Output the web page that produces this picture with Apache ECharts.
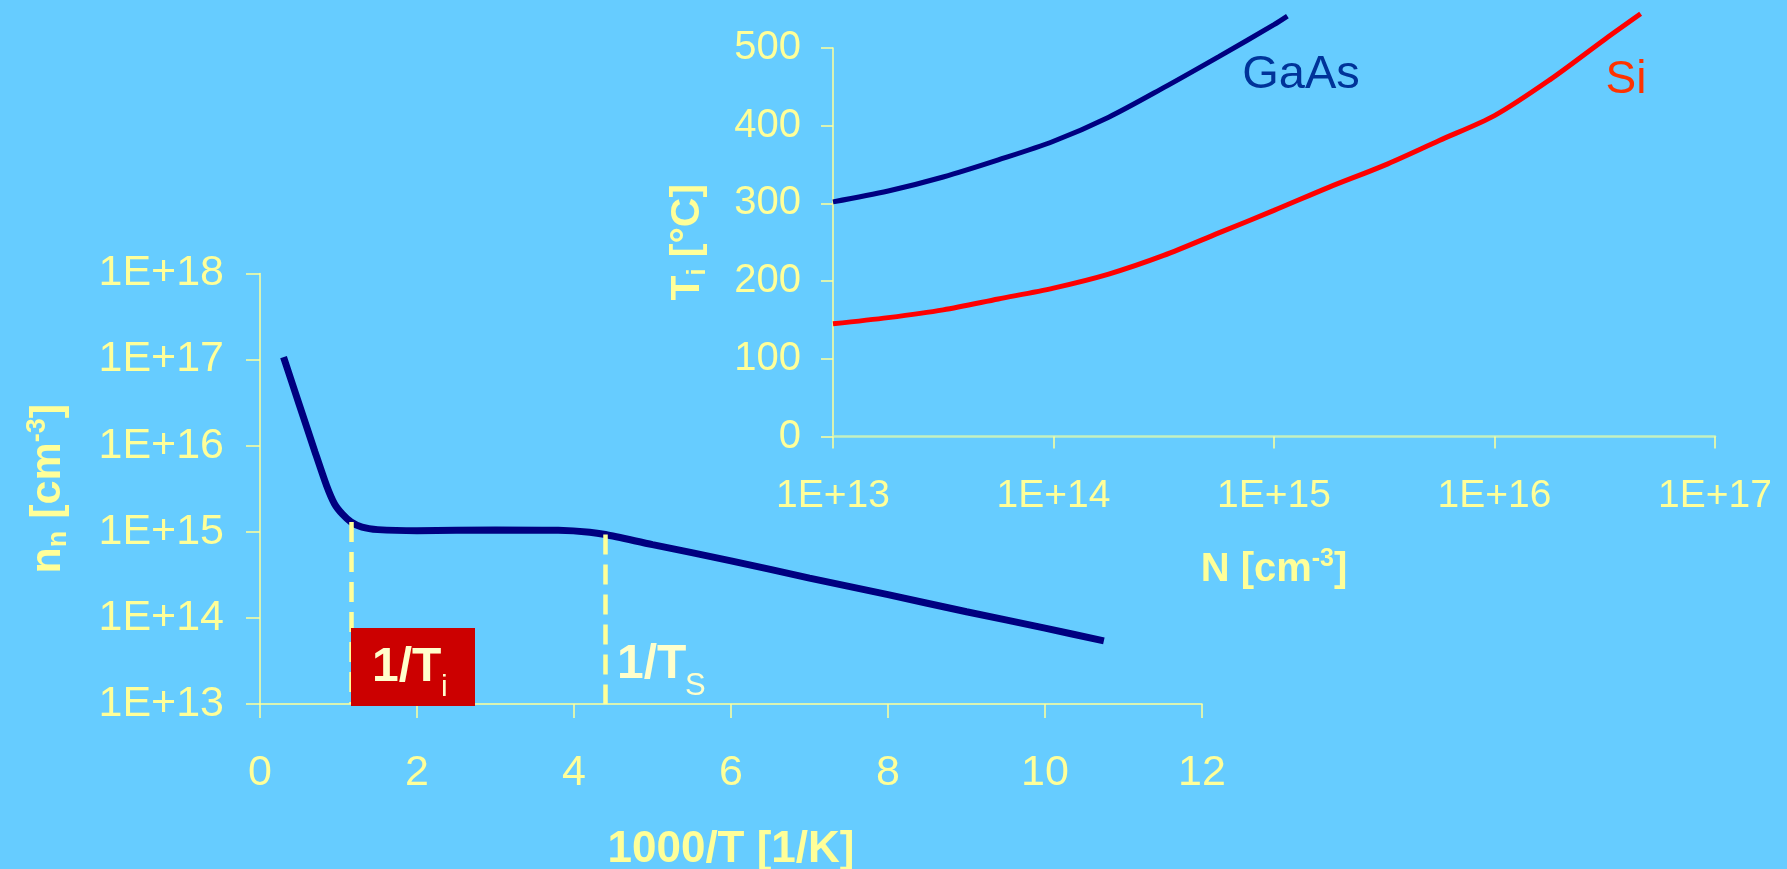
<!DOCTYPE html>
<html>
<head>
<meta charset="utf-8">
<title>n(1000/T) and Ti(N)</title>
<script src="https://cdn.jsdelivr.net/npm/echarts@6/dist/echarts.min.js"></script>
<style>
  html, body { margin: 0; padding: 0; background: #66CCFF; }
  #chart { width: 1787px; height: 869px; }
</style>
</head>
<body>
<div id="chart"></div>
<script>
// left chart: n_n over 1000/T
const invT = [0.3, 0.5, 0.7, 0.85, 0.95, 1.05, 1.16, 1.3, 1.5, 2, 3, 3.8, 4.2, 4.4, 5, 6, 7, 8, 9, 10, 10.75];
const nn = [1.07e17, 3.0e16, 8.5e15, 3.4e15, 2.1e15, 1.6e15, 1.3e15, 1.13e15, 1.06e15, 1.03e15, 1.05e15,
  1.04e15, 9.9e14, 9.3e14, 7.1e14, 4.6e14, 2.9e14, 1.86e14, 1.18e14, 7.6e13, 5.4e13];
const nTickLabels = ['1E+13', '1E+14', '1E+15', '1E+16', '1E+17', '1E+18'];
const invTi = 1.16, nAtTi = 1.3e15;
const invTs = 4.4, nAtTs = 9.3e14;

// right chart: Ti over doping N
const gaasN = [1e13, 1.78e13, 3.16e13, 5.62e13, 1e14, 1.78e14, 3.16e14, 5.62e14, 1e15, 1.15e15];
const gaasTi = [302, 316, 334, 356, 380, 411, 449, 489, 530, 541];
const siN = [1e13, 1.78e13, 3.16e13, 5.62e13, 1e14, 1.78e14, 3.16e14, 5.62e14, 1e15, 1.78e15, 3.16e15,
  5.62e15, 1e16, 1.78e16, 3.16e16, 4.6e16];
const siTi = [145, 153, 163, 177, 191, 209, 233, 262, 291, 321, 349, 381, 413, 459, 511, 544];
const NTickLabels = ['1E+13', '1E+14', '1E+15', '1E+16', '1E+17'];

const yellow = '#FFFF99';
const cream = '#FFFFCC';
const font = '"Liberation Sans", Arial, sans-serif';

function pairs(xs, ys) {
  return xs.map((x, i) => [x, ys[i]]);
}
function expLabel(labels, first) {
  return v => labels[Math.round(Math.log10(v)) - first] || '';
}

const myChart = echarts.init(document.getElementById('chart'));

const option = {
  backgroundColor: '#66CCFF',
  animation: false,
  textStyle: { fontFamily: font },
  grid: [
    { left: 260, top: 273.5, width: 942, height: 430.5, outerBoundsMode: 'none' },
    { left: 833, top: 48, width: 882, height: 388.5, outerBoundsMode: 'none' }
  ],
  xAxis: [
    {
      gridIndex: 0, type: 'value', min: 0, max: 12, interval: 2,
      name: '1000/T [1/K]', nameLocation: 'middle', nameGap: 124,
      nameTextStyle: { color: yellow, fontSize: 44, fontWeight: 'bold', fontFamily: font },
      axisLine: { lineStyle: { color: yellow, width: 1.5 } },
      axisTick: { length: 14, lineStyle: { color: yellow, width: 1.5 } },
      axisLabel: { color: yellow, fontSize: 43, margin: 48, fontFamily: font },
      splitLine: { show: false }
    },
    {
      gridIndex: 1, type: 'log', logBase: 10, min: 1e13, max: 1e17,
      name: '{a|N [cm}{c|-3}{a|]}', nameLocation: 'middle', nameGap: 110,
      nameTextStyle: {
        rich: {
          a: { color: yellow, fontSize: 40, fontWeight: 'bold', fontFamily: font, lineHeight: 46 },
          c: { color: yellow, fontSize: 25, fontWeight: 'bold', fontFamily: font, lineHeight: 25, verticalAlign: 'top' }
        }
      },
      axisLine: { lineStyle: { color: '#C4F0C0', width: 2.5 } },
      axisTick: { length: 12, lineStyle: { color: yellow, width: 1.5 } },
      axisLabel: { color: yellow, fontSize: 39, margin: 40, fontFamily: font, formatter: expLabel(NTickLabels, 13) },
      splitLine: { show: false }
    }
  ],
  yAxis: [
    {
      gridIndex: 0, type: 'log', logBase: 10, min: 1e13, max: 1e18,
      name: '{a|n}{b|n}{a| [cm}{c|-3}{a|]}', nameLocation: 'middle', nameGap: 188,
      nameTextStyle: {
        rich: {
          a: { color: yellow, fontSize: 43, fontWeight: 'bold', fontFamily: font, lineHeight: 48 },
          b: { color: yellow, fontSize: 27, fontWeight: 'bold', fontFamily: font, lineHeight: 27, verticalAlign: 'bottom' },
          c: { color: yellow, fontSize: 27, fontWeight: 'bold', fontFamily: font, lineHeight: 27, verticalAlign: 'top' }
        }
      },
      axisLine: { show: true, lineStyle: { color: yellow, width: 1.5 } },
      axisTick: { show: true, length: 14, lineStyle: { color: yellow, width: 1.5 } },
      axisLabel: { color: yellow, fontSize: 43, margin: 36, fontFamily: font, formatter: expLabel(nTickLabels, 13) },
      splitLine: { show: false }
    },
    {
      gridIndex: 1, type: 'value', min: 0, max: 500, interval: 100,
      name: '{a|T}{b|i}{a| [°C]}', nameLocation: 'middle', nameGap: 122,
      nameTextStyle: {
        rich: {
          a: { color: yellow, fontSize: 41, fontWeight: 'bold', fontFamily: font, lineHeight: 46 },
          b: { color: yellow, fontSize: 25, fontWeight: 'bold', fontFamily: font, lineHeight: 25, verticalAlign: 'bottom' }
        }
      },
      axisLine: { show: true, lineStyle: { color: yellow, width: 1.5 } },
      axisTick: { show: true, length: 12, lineStyle: { color: yellow, width: 1.5 } },
      axisLabel: { color: yellow, fontSize: 40, margin: 32, fontFamily: font },
      splitLine: { show: false }
    }
  ],
  series: [
    {
      name: 'n', type: 'line', xAxisIndex: 0, yAxisIndex: 0,
      data: pairs(invT, nn), smooth: 0.25, showSymbol: false,
      lineStyle: { color: '#000080', width: 7 },
      markLine: {
        silent: true, symbol: 'none', animation: false,
        label: { show: false },
        lineStyle: { color: yellow, width: 4.5, type: [20, 10] },
        data: [
          [{ coord: [invTi, nAtTi] }, { coord: [invTi, 1e13] }],
          [{ coord: [invTs, nAtTs] }, { coord: [invTs, 1e13] }]
        ]
      },
      z: 3
    },
    {
      name: 'GaAs', type: 'line', xAxisIndex: 1, yAxisIndex: 1,
      data: pairs(gaasN, gaasTi), smooth: 0.3, showSymbol: false, clip: false,
      lineStyle: { color: '#000080', width: 5 }
    },
    {
      name: 'Si', type: 'line', xAxisIndex: 1, yAxisIndex: 1,
      data: pairs(siN, siTi), smooth: 0.3, showSymbol: false, clip: false,
      lineStyle: { color: '#FF0000', width: 5 }
    }
  ],
  graphic: [
    { type: 'rect', z: 100, shape: { x: 351, y: 628, width: 124, height: 78 }, style: { fill: '#CC0000' } },
    { type: 'text', z: 101, x: 372, y: 668, style: { text: '1/T', fill: cream, font: 'bold 48px ' + font, verticalAlign: 'middle' } },
    { type: 'text', z: 101, x: 441, y: 688, style: { text: 'i', fill: cream, font: '30px ' + font, verticalAlign: 'middle' } },
    { type: 'text', z: 101, x: 617, y: 665, style: { text: '1/T', fill: cream, font: 'bold 48px ' + font, verticalAlign: 'middle' } },
    { type: 'text', z: 101, x: 685, y: 686, style: { text: 'S', fill: cream, font: '31px ' + font, verticalAlign: 'middle' } },
    { type: 'text', z: 101, x: 1301, y: 75, style: { text: 'GaAs', fill: '#003399', font: '47px ' + font, align: 'center', verticalAlign: 'middle' } },
    { type: 'text', z: 101, x: 1626, y: 80, style: { text: 'Si', fill: '#FF3300', font: '46px ' + font, align: 'center', verticalAlign: 'middle' } }
  ]
};

myChart.setOption(option);
window.addEventListener('resize', function () {
  myChart.resize();
});
</script>
</body>
</html>
